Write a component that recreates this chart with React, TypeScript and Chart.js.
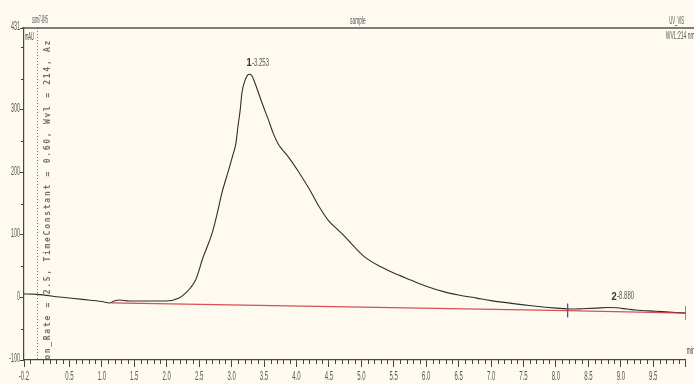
import React, { useEffect, useRef } from "react";
import { Chart, registerables } from "chart.js";
Chart.register(...registerables);

// ---- data ----
const TIME = [-0.2, 0.0, 0.35, 0.7, 1.0, 1.12, 1.19, 1.27, 1.42, 1.73, 1.99, 2.19, 2.29, 2.37, 2.445, 2.5, 2.546, 2.62, 2.7, 2.78, 2.85, 2.955, 3.02, 3.067, 3.1, 3.133, 3.159, 3.21, 3.25, 3.276, 3.31, 3.36, 3.415, 3.491, 3.568, 3.644, 3.721, 3.8, 3.874, 4.027, 4.2, 4.35, 4.5, 4.64, 4.75, 4.9, 5.05, 5.3, 5.5, 5.76, 6.0, 6.28, 6.5, 6.78, 7.0, 7.29, 7.66, 8.01, 8.24, 8.4, 8.62, 8.8, 8.93, 9.1, 9.23, 9.54, 9.85, 10.0];
const SIGNAL = [5.6, 5, 0.8, -3, -6.5, -8.8, -5.6, -4, -5.6, -5.6, -5.6, -1, 7, 16, 28, 44, 60, 80, 103, 135, 167, 204, 228, 247, 275, 300, 327, 348, 356, 357, 355, 343, 327, 305, 284, 262, 245, 234, 225, 202, 173, 145, 122, 108, 97, 80, 65, 49, 39, 28, 18, 9, 4, -1, -5, -9, -13.6, -17, -18.5, -18, -17, -16, -16.5, -18.5, -20, -22, -24, -25];

const BASE_TIME = [1.15, 8.18, 10.0];
const BASE_VALUE = [-8.5, -21, -25];

const MARK_TIME = [8.18, 10.0];
const MARK_VALUE = [-21, -25];

const PEAK_NO = ["1", "2"];
const PEAK_TIME = [3.253, 8.88];
const PEAK_VALUE = [357, -16];
const PEAK_TEXT = ["-3.253", "-8.880"];

const X_TICKS = [-0.2, 0.5, 1.0, 1.5, 2.0, 2.5, 3.0, 3.5, 4.0, 4.5, 5.0, 5.5, 6.0, 6.5, 7.0, 7.5, 8.0, 8.5, 9.0, 9.5, 10.0];
const X_LABELS = ["-0.2", "0.5", "1.0", "1.5", "2.0", "2.5", "3.0", "3.5", "4.0", "4.5", "5.0", "5.5", "6.0", "6.5", "7.0", "7.5", "8.0", "8.5", "9.0", "9.5", ""];
const Y_TICKS = [-100, 0, 100, 200, 300, 431];
const Y_LABELS = ["-100", "0", "100", "200", "300", "431"];
const Y_MINOR = [-50, 50, 150, 250, 350, 400];

const HEADER_LEFT = "sam7-8#5";
const HEADER_MID = "sample";
const HEADER_RIGHT = "UV_VIS";
const SUB_RIGHT = "WVL:214 nm";
const Y_UNIT = "mAU";
const X_UNIT = "min";
const SIDE_TEXT = "Data_Collection_Rate = 2.5, TimeConstant = 0.60, Wvl = 214, Az";

const BG = "#fefaf0";
const FONT = '"Liberation Sans", Arial, sans-serif';

function sq(ctx: CanvasRenderingContext2D, text: string, x: number, y: number, size: number, align: CanvasTextAlign, color: string, squeeze = 0.8, bold = false) {
  ctx.save();
  ctx.translate(x, y);
  ctx.scale(squeeze, 1);
  ctx.font = `${bold ? "bold " : ""}${size}px ${FONT}`;
  ctx.fillStyle = color;
  ctx.textAlign = align;
  ctx.textBaseline = "middle";
  ctx.fillText(text, 0, 0);
  ctx.restore();
}

const decor = {
  id: "decor",
  beforeDraw(chart: any) {
    const ctx = chart.ctx as CanvasRenderingContext2D;
    ctx.save();
    ctx.fillStyle = BG;
    ctx.fillRect(0, 0, chart.width, chart.height);
    ctx.restore();
  },
  beforeDatasetsDraw(chart: any) {
    const ctx = chart.ctx as CanvasRenderingContext2D;
    const a = chart.chartArea;
    const xs = chart.scales.x;
    // dotted injection line at t = 0
    const x0 = xs.getPixelForValue(0);
    ctx.save();
    ctx.strokeStyle = "#777";
    ctx.lineWidth = 1;
    ctx.setLineDash([1, 2]);
    ctx.beginPath();
    ctx.moveTo(Math.round(x0) + 0.5, a.top);
    ctx.lineTo(Math.round(x0) + 0.5, a.bottom);
    ctx.stroke();
    ctx.restore();
    // side rotated text
    ctx.save();
    ctx.beginPath();
    ctx.rect(a.left, a.top + 2, 40, a.bottom - a.top - 3);
    ctx.clip();
    ctx.translate(x0 + 11, 445);
    ctx.rotate(-Math.PI / 2);
    ctx.font = `bold 8px "DejaVu Sans Mono", monospace`;
    ctx.fillStyle = "#707070";
    ctx.textBaseline = "middle";
    for (let i = 0; i < SIDE_TEXT.length; i++) {
      ctx.fillText(SIDE_TEXT[i], i * 6.55, 0);
    }
    ctx.restore();
  },
  afterDraw(chart: any) {
    const ctx = chart.ctx as CanvasRenderingContext2D;
    const a = chart.chartArea;
    const xs = chart.scales.x;
    const ys = chart.scales.y;
    ctx.save();
    // top line
    ctx.strokeStyle = "#555";
    ctx.lineWidth = 1.5;
    ctx.beginPath();
    ctx.moveTo(a.left - 2, a.top);
    ctx.lineTo(chart.width, a.top);
    ctx.stroke();
    // minor x ticks
    ctx.strokeStyle = "#444";
    ctx.lineWidth = 1;
    for (let i = -1; i < 100; i++) {
      if (i % 5 === 0) continue;
      const px = Math.round(xs.getPixelForValue(i / 10)) + 0.5;
      ctx.beginPath();
      ctx.moveTo(px, a.bottom);
      ctx.lineTo(px, a.bottom + 4);
      ctx.stroke();
    }
    // minor y ticks
    for (const v of Y_MINOR) {
      const py = Math.round(ys.getPixelForValue(v)) + 0.5;
      ctx.beginPath();
      ctx.moveTo(a.left - 3, py);
      ctx.lineTo(a.left, py);
      ctx.stroke();
    }
    ctx.restore();
    // tick labels from the scales' ticks
    for (const tk of xs.ticks) {
      const i = X_TICKS.indexOf(tk.value);
      if (i < 0 || !X_LABELS[i]) continue;
      sq(ctx, X_LABELS[i], xs.getPixelForValue(tk.value), 377, 12, "center", "#555", 0.5);
    }
    for (const tk of ys.ticks) {
      const i = Y_TICKS.indexOf(tk.value);
      if (i < 0) continue;
      sq(ctx, Y_LABELS[i], a.left - 4, ys.getPixelForValue(tk.value) - 1, 12, "right", "#555", 0.45);
    }
    // header texts
    sq(ctx, HEADER_LEFT, a.left + 8, 20, 10, "left", "#555", 0.36);
    sq(ctx, HEADER_MID, (a.left + a.right) / 2 + 3, 21, 10, "center", "#555", 0.48);
    sq(ctx, HEADER_RIGHT, a.right - 9, 21, 10, "center", "#555", 0.42);
    sq(ctx, SUB_RIGHT, a.right - 20, 36, 10, "left", "#555", 0.5);
    sq(ctx, Y_UNIT, a.left + 1, 37, 10, "left", "#444", 0.4);
    sq(ctx, X_UNIT, a.right + 1, 351, 10, "left", "#444", 0.5);
    // peak labels
    for (let i = 0; i < PEAK_NO.length; i++) {
      const px = xs.getPixelForValue(PEAK_TIME[i]);
      const py = ys.getPixelForValue(PEAK_VALUE[i]) - 11;
      sq(ctx, PEAK_NO[i], px + 1, py, 11, "center", "#333", 0.85, true);
      sq(ctx, PEAK_TEXT[i], px + 4, py, 10, "left", "#555", 0.6);
    }
  },
};

export default function App() {
  const ref = useRef<HTMLCanvasElement>(null);
  useEffect(() => {
    document.body.style.margin = "0";
    document.body.style.background = BG;
    const canvas = ref.current!;
    const chart = new Chart(canvas, {
      type: "scatter",
      data: {
        datasets: [
          {
            label: "baseline",
            data: BASE_TIME.map((t, i) => ({ x: t, y: BASE_VALUE[i] })),
            showLine: true,
            borderColor: "rgba(205,50,60,0.85)",
            borderWidth: 1.3,
            pointRadius: 0,
            order: 0,
          },
          {
            label: "marks",
            data: MARK_TIME.map((t, i) => ({ x: t, y: MARK_VALUE[i] })),
            showLine: false,
            pointStyle: "line",
            rotation: 90,
            pointRadius: 7,
            borderColor: "#4b4fa8",
            borderWidth: 1.3,
            order: 0,
          },
          {
            label: "signal",
            data: TIME.map((t, i) => ({ x: t, y: SIGNAL[i] })),
            showLine: true,
            borderColor: "#2e2e2e",
            borderWidth: 1.1,
            pointRadius: 0,
            cubicInterpolationMode: "monotone",
            order: 1,
          },
        ],
      },
      options: {
        responsive: false,
        animation: false,
        devicePixelRatio: 1,
        layout: { padding: { top: 28, right: 4, left: 0, bottom: 0 } },
        plugins: { legend: { display: false }, tooltip: { enabled: false }, title: { display: false } },
        scales: {
          x: {
            type: "linear",
            min: -0.2,
            max: 10.0,
            afterFit: (s: any) => { s.height = 24; },
            afterBuildTicks: (s: any) => { s.ticks = X_TICKS.map((v) => ({ value: v })); },
            border: { display: true, color: "#444", width: 1.2 },
            grid: { display: true, drawOnChartArea: false, drawTicks: true, tickLength: 7, color: "#444" },
            ticks: { display: false, autoSkip: false, maxRotation: 0 },
          },
          y: {
            type: "linear",
            min: -100,
            max: 431,
            afterFit: (s: any) => { s.width = 24; },
            afterBuildTicks: (s: any) => { s.ticks = Y_TICKS.map((v) => ({ value: v })); },
            border: { display: true, color: "#444", width: 1.2 },
            grid: { display: true, drawOnChartArea: false, drawTicks: true, tickLength: 4, color: "#444" },
            ticks: { display: false, autoSkip: false },
          },
        },
      },
      plugins: [decor],
    } as any);
    return () => chart.destroy();
  }, []);
  return (
    <div style={{ width: 694, height: 384, background: BG }}>
      <canvas ref={ref} width={694} height={384} style={{ display: "block" }} />
    </div>
  );
}
